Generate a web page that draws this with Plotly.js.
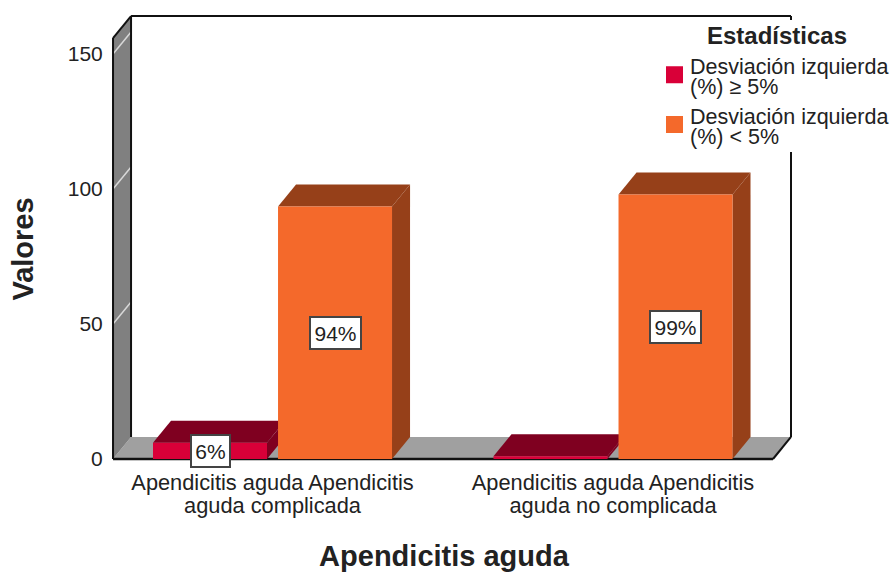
<!DOCTYPE html>
<html><head><meta charset="utf-8">
<script src="https://cdn.plot.ly/plotly-3.0.1.min.js"></script>
<style>html,body{margin:0;padding:0;background:#fff}#c{width:893px;height:572px}</style></head>
<body><div id="c"></div>
<script>
// Data
var categories = ["Apendicitis aguda Apendicitis<br>aguda complicada", "Apendicitis aguda Apendicitis<br>aguda no complicada"];
var seriesNames = ["Desviación izquierda<br>(%) ≥ 5%", "Desviación izquierda<br>(%) < 5%"];
var valuesHigh = [6, 1];
var valuesLow = [93.5, 98];
var labelsHigh = ["6%", ""];
var labelsLow = ["94%", "99%"];
var yTicks = [0, 50, 100, 150];

// Styles
var frontCol = ["#D90038", "#F4692B"], darkCol = ["#7F0020", "#964019"];
var FONT = "Liberation Sans, Arial, sans-serif", TXT = "#222";

// Geometry in axis units
var barW = 0.3348, offsets = [-0.351, 0.0162], depthX = 0.0529, depthY = 8.15;
var xRange = [-0.5184, 1.5257], yRange = [-8.89, 164.44];
var wallL = -0.4684, wallR = 1.4699, wallTop = 155.9;
var x = [0, 1];

function poly(pts){ return "M" + pts.map(function(p){return p[0]+","+p[1];}).join("L") + "Z"; }
function face(pts, fill, lineCol, lw){
  return {type:"path", xref:"x", yref:"y", layer:"below", path:poly(pts), fillcolor:fill,
          line:{color:lineCol||fill, width:lw===undefined?0:lw}};
}
function seg(a, b, col, w){
  return {type:"line", xref:"x", yref:"y", layer:"below", x0:a[0], y0:a[1], x1:b[0], y1:b[1], line:{color:col, width:w}};
}
var shapes = [];
shapes.push(face([[wallL,0],[wallL+depthX,depthY],[wallR+depthX,depthY],[wallR,0]], "#A0A0A0"));
shapes.push(face([[wallL,0],[wallL+depthX,depthY],[wallL+depthX,wallTop+depthY],[wallL,wallTop]], "#808080"));
yTicks.slice(1).forEach(function(t){ shapes.push(seg([wallL,t],[wallL+depthX,t+depthY],"#D8D8D8",1.5)); });
shapes.push(seg([wallL,0],[wallL,wallTop],"#111",2));
shapes.push(seg([wallL,wallTop],[wallL+depthX,wallTop+depthY],"#111",2));
shapes.push(seg([wallL+depthX,depthY],[wallL+depthX,wallTop+depthY],"#111",2));
shapes.push(seg([wallL+depthX,wallTop+depthY],[wallR+depthX,wallTop+depthY],"#111",2));
shapes.push(seg([wallR+depthX,depthY],[wallR+depthX,wallTop+depthY],"#111",2));
shapes.push(seg([wallR,0],[wallR+depthX,depthY],"#111",2));
shapes.push(seg([wallL,0],[wallR,0],"#111",2.5));
[valuesHigh, valuesLow].forEach(function(vals, s){
  vals.forEach(function(v, i){
    var l = x[i]+offsets[s], r = l+barW;
    shapes.push(face([[l,v],[l+depthX,v+depthY],[r+depthX,v+depthY],[r,v]], darkCol[s]));
    shapes.push(face([[r,0],[r+depthX,depthY],[r+depthX,v+depthY],[r,v]], darkCol[s]));
  });
});

function barTrace(vals, s){
  return {type:"bar", x:x, y:vals, width:barW, offset:offsets[s], marker:{color:frontCol[s], line:{width:0}},
          showlegend:false, hoverinfo:"skip", cliponaxis:false};
}
function keyTrace(s){
  return {type:"bar", x:[0], y:[null], name:seriesNames[s], width:barW, offset:offsets[s],
          marker:{color:frontCol[s], line:{color:frontCol[s], width:5}}, showlegend:true};
}
var data = [barTrace(valuesHigh,0), barTrace(valuesLow,1), keyTrace(0), keyTrace(1)];

var annotations = [];
[[valuesHigh,labelsHigh],[valuesLow,labelsLow]].forEach(function(p, s){
  p[0].forEach(function(v,i){
    if(!p[1][i]) return;
    annotations.push({xref:"x", yref:"y", x:x[i]+offsets[s]+barW/2, y:v/2, text:p[1][i], showarrow:false,
      width:p[1][i].length*12+13, height:30, borderpad:0,
      bgcolor:"#fff", bordercolor:"#444", borderwidth:2, font:{family:FONT,size:21,color:TXT}});
  });
});

var layout = {
  width:893, height:572, paper_bgcolor:"#fff", plot_bgcolor:"#fff", barmode:"overlay",
  margin:{l:96, r:101, t:15, b:89, autoexpand:false}, font:{family:FONT, color:TXT},
  xaxis:{type:"linear", range:xRange, tickvals:x, ticktext:categories, showgrid:false, zeroline:false, showline:false,
    anchor:"free", position:0.05128, ticks:"outside", ticklen:4, tickcolor:"rgba(0,0,0,0)", tickfont:{size:21.8,color:TXT},
    title:{text:"Apendicitis aguda", standoff:28, font:{family:FONT,size:29,color:TXT,weight:"bold"}}},
  yaxis:{range:yRange, tickvals:yTicks, showgrid:false, zeroline:false, showline:false,
    anchor:"free", position:0.02443, ticks:"outside", ticklen:6, tickcolor:"rgba(0,0,0,0)", tickfont:{size:21,color:TXT},
    title:{text:"Valores", standoff:24, font:{family:FONT,size:29,color:TXT,weight:"bold"}}},
  legend:{x:(650-96)/696, y:(483-20)/468, xanchor:"left", yanchor:"top",
    bgcolor:"#fff", borderwidth:0, font:{family:FONT,size:21.5,color:TXT}, traceorder:"normal",
    title:{text:"<b>Estadísticas</b>", side:"top center", font:{family:FONT,size:24,color:TXT}}},
  shapes:shapes, annotations:annotations, hovermode:false
};

function translateOf(el){
  var m = /translate\(\s*([-\d.]+)[ ,]+([-\d.]+)\s*\)/.exec(el.getAttribute("transform") || "");
  return m ? [parseFloat(m[1]), parseFloat(m[2])] : [0, 0];
}
function nudge(el, dx, dy){
  var t = translateOf(el);
  el.setAttribute("transform", "translate(" + (t[0]+dx) + "," + (t[1]+dy) + ")");
}
// Tighter line spacing than Plotly's fixed 1.3em, as in the reference
function tighten(root){
  root.querySelectorAll(".xtick tspan.line").forEach(function(t){
    if(parseFloat(t.getAttribute("dy")) > 0) t.setAttribute("dy", "1.05em");
  });
  var leg = root.querySelector(".legend");
  if(!leg) return;
  leg.querySelectorAll(".legendtext tspan.line").forEach(function(t){
    if(parseFloat(t.getAttribute("dy")) > 0) t.setAttribute("dy", "0.93em");
  });
  var bg = leg.querySelector("rect.bg");
  if(bg) bg.setAttribute("height", 132);
  var title = leg.querySelector(".legendtitletext");
  if(title) nudge(title, 5, -7);
  var shifts = [-6, -15];
  leg.querySelectorAll(".traces").forEach(function(tr, i){
    nudge(tr, 0, shifts[i]);
    var sym = tr.querySelector(".legendsymbols");
    if(sym) nudge(sym, 4.5, -5);
  });
}
Plotly.newPlot("c", data, layout, {displayModeBar:false, staticPlot:true}).then(function(gd){ tighten(gd); });
</script></body></html>
